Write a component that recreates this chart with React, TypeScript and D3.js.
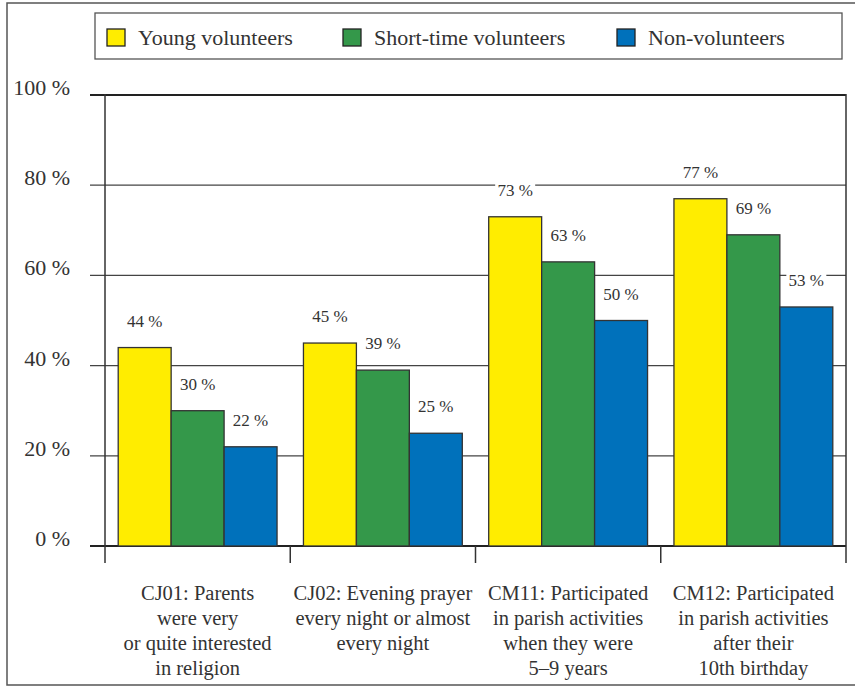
import React from "react";
import * as d3 from "d3";

const categories = [
  ["CJ01: Parents", "were very", "or quite interested", "in religion"],
  ["CJ02: Evening prayer", "every night or almost", "every night"],
  ["CM11: Participated", "in parish activities", "when they were", "5–9 years"],
  ["CM12: Participated", "in parish activities", "after their", "10th birthday"],
];
const seriesNames = ["Young volunteers", "Short-time volunteers", "Non-volunteers"];
const youngValues = [44, 45, 73, 77];
const shortValues = [30, 39, 63, 69];
const nonValues = [22, 25, 50, 53];
const yTicks = [0, 20, 40, 60, 80, 100];
const colors = ["#FFED00", "#34984A", "#0071BB"];

const W = 855;
const H = 686;
const FONT = "Liberation Serif, DejaVu Serif, serif";
const TEXT = "#333333";
const ts = { fontFamily: FONT };

export default function App() {
  const series = [youngValues, shortValues, nonValues];
  const x0 = d3
    .scaleBand<number>()
    .domain(categories.map((_, i) => i))
    .range([105, 846])
    .paddingInner(0)
    .paddingOuter(0);
  const x1 = d3
    .scaleBand<number>()
    .domain([0, 1, 2])
    .range([13.2, x0.bandwidth() - 13.2]);
  const y = d3.scaleLinear().domain([0, 100]).range([546, 95]);

  const legendX = [107, 343, 617];
  const labelFont = 17;

  return (
    <svg
      width={W}
      height={H}
      style={{ position: "absolute", left: 0, top: 0, background: "#fff" }}
    >
      {/* outer frame */}
      <rect x={7} y={3} width={W} height={682} fill="none" stroke="#555" strokeWidth={1.5} />

      {/* legend */}
      <rect x={95} y={13} width={747} height={46} fill="#fff" stroke="#555" strokeWidth={1.3} />
      {seriesNames.map((name, i) => (
        <g key={name}>
          <rect
            x={legendX[i]}
            y={29}
            width={18}
            height={17}
            fill={colors[i]}
            stroke="#222"
            strokeWidth={1.3}
          />
          <text x={legendX[i] + 31} y={45} fontSize={22} fill={TEXT} style={ts}>
            {name}
          </text>
        </g>
      ))}

      {/* gridlines + y ticks */}
      {yTicks.map((t) => (
        <g key={t}>
          <line
            x1={90}
            x2={846}
            y1={y(t)}
            y2={y(t)}
            stroke={t === 100 || t === 0 ? "#222" : "#444"}
            strokeWidth={t === 100 || t === 0 ? 2 : 1.2}
          />
          <text
            x={70}
            y={y(t)}
            textAnchor="end"
            fontSize={22}
            fill={TEXT}
            style={ts}
          >
            {`${t} %`}
          </text>
        </g>
      ))}

      {/* vertical axis lines */}
      <line x1={105} x2={105} y1={94} y2={563} stroke="#333" strokeWidth={1.5} />
      <line x1={846} x2={846} y1={94} y2={563} stroke="#333" strokeWidth={1.5} />
      {categories.map((_, i) =>
        i === 0 ? null : (
          <line
            key={i}
            x1={x0(i)!}
            x2={x0(i)!}
            y1={546}
            y2={563}
            stroke="#333"
            strokeWidth={1.5}
          />
        )
      )}

      {/* bars */}
      {categories.map((_, ci) => (
        <g key={ci} transform={`translate(${x0(ci)},0)`}>
          {series.map((vals, si) => (
            <rect
              key={si}
              x={x1(si)!}
              y={y(vals[ci])}
              width={x1.bandwidth()}
              height={y(0) - y(vals[ci])}
              fill={colors[si]}
              stroke="#333"
              strokeWidth={1.3}
            />
          ))}
        </g>
      ))}

      {/* value labels */}
      {categories.map((_, ci) => (
        <g key={ci} transform={`translate(${x0(ci)},0)`}>
          {series.map((vals, si) => {
            const cx = x1(si)! + x1.bandwidth() / 2;
            const by = y(vals[ci]) - 21;
            const w = 40;
            return (
              <g key={si}>
                <rect x={cx - w / 2} y={by - 13} width={w} height={17} fill="#fff" />
                <text
                  x={cx}
                  y={by}
                  textAnchor="middle"
                  fontSize={labelFont}
                  fill={TEXT}
                  style={ts}
                >
                  {`${vals[ci]} %`}
                </text>
              </g>
            );
          })}
        </g>
      ))}

      {/* category labels */}
      {categories.map((lines, ci) => (
        <text
          key={ci}
          x={x0(ci)! + x0.bandwidth() / 2}
          y={600}
          textAnchor="middle"
          fontSize={20.5}
          fill={TEXT}
          style={ts}
        >
          {lines.map((l, li) => (
            <tspan key={li} x={x0(ci)! + x0.bandwidth() / 2} y={600 + li * 25}>
              {l}
            </tspan>
          ))}
        </text>
      ))}
    </svg>
  );
}
